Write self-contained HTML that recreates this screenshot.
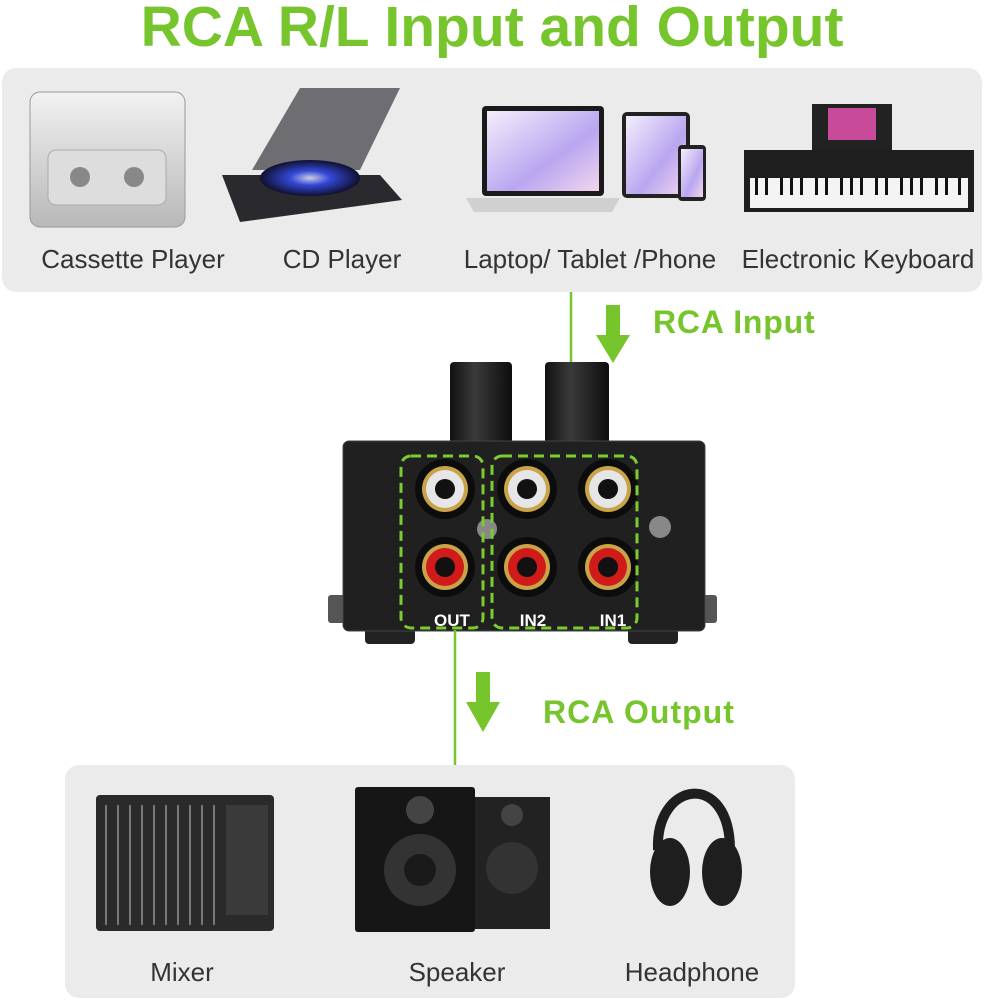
<!DOCTYPE html>
<html><head><meta charset="utf-8"><style>
html,body{margin:0;padding:0;background:#fff;}
body{width:984px;height:1000px;position:relative;overflow:hidden;font-family:"Liberation Sans","DejaVu Sans",sans-serif;}
</style></head><body>
<svg width="984" height="1000" viewBox="0 0 984 1000" xmlns="http://www.w3.org/2000/svg" style="position:absolute;left:0;top:0">
<defs>
<linearGradient id="silver" x1="0" y1="0" x2="0" y2="1"><stop offset="0" stop-color="#f2f2f2"/><stop offset="1" stop-color="#b8b8b8"/></linearGradient>
<linearGradient id="knob" x1="0" y1="0" x2="1" y2="0"><stop offset="0" stop-color="#111"/><stop offset=".4" stop-color="#3a3a3a"/><stop offset="1" stop-color="#0d0d0d"/></linearGradient>
<radialGradient id="disc" cx=".5" cy=".5" r=".5"><stop offset="0" stop-color="#ccd"/><stop offset=".4" stop-color="#3348d8"/><stop offset="1" stop-color="#101030"/></radialGradient>
<linearGradient id="scr" x1="0" y1="0" x2="1" y2="1"><stop offset="0" stop-color="#f4eefc"/><stop offset=".6" stop-color="#b9a6f0"/><stop offset="1" stop-color="#f2d6ee"/></linearGradient>
</defs>
<text x="492" y="46" text-anchor="middle" font-size="57" font-weight="bold" fill="#76c52c">RCA R/L Input and Output</text>
<rect x="2" y="68" width="980" height="224" rx="14" fill="#ebebeb"/>
<rect x="30" y="92" width="155" height="135" rx="10" fill="url(#silver)" stroke="#999"/>
<rect x="48" y="150" width="118" height="55" rx="8" fill="#ddd" stroke="#aaa"/>
<circle cx="80" cy="177" r="10" fill="#888"/><circle cx="134" cy="177" r="10" fill="#888"/>
<polygon points="252,170 300,88 400,88 360,170" fill="#6d6d72"/>
<polygon points="222,175 380,175 402,200 240,222" fill="#2a2a2e"/>
<ellipse cx="310" cy="178" rx="50" ry="18" fill="url(#disc)"/>
<rect x="482" y="106" width="122" height="90" rx="4" fill="#1a1a1a"/>
<rect x="487" y="111" width="112" height="80" fill="url(#scr)"/>
<polygon points="466,198 620,198 612,212 474,212" fill="#d0d0d0"/>
<rect x="622" y="112" width="68" height="86" rx="5" fill="#222"/>
<rect x="626" y="116" width="60" height="78" fill="url(#scr)"/>
<rect x="678" y="145" width="28" height="56" rx="4" fill="#222"/>
<rect x="681" y="149" width="22" height="48" fill="url(#scr)"/>
<rect x="812" y="104" width="80" height="50" fill="#222"/>
<rect x="828" y="108" width="48" height="32" fill="#c84a9a"/>
<rect x="744" y="150" width="230" height="62" fill="#1e1e1e"/>
<rect x="750" y="178" width="218" height="30" fill="#f4f4f4"/>
<g fill="#111"><rect x="755" y="178" width="3" height="17"/><rect x="765" y="178" width="3" height="17"/><rect x="780" y="178" width="3" height="17"/><rect x="790" y="178" width="3" height="17"/><rect x="800" y="178" width="3" height="17"/><rect x="815" y="178" width="3" height="17"/><rect x="825" y="178" width="3" height="17"/><rect x="840" y="178" width="3" height="17"/><rect x="850" y="178" width="3" height="17"/><rect x="860" y="178" width="3" height="17"/><rect x="875" y="178" width="3" height="17"/><rect x="885" y="178" width="3" height="17"/><rect x="900" y="178" width="3" height="17"/><rect x="910" y="178" width="3" height="17"/><rect x="920" y="178" width="3" height="17"/><rect x="935" y="178" width="3" height="17"/><rect x="945" y="178" width="3" height="17"/><rect x="958" y="178" width="3" height="17"/></g>
<g font-size="26" fill="#333" text-anchor="middle">
<text x="133" y="268">Cassette Player</text><text x="342" y="268">CD Player</text>
<text x="590" y="268">Laptop/ Tablet /Phone</text><text x="858" y="268">Electronic Keyboard</text>
</g>
<line x1="571" y1="292" x2="571" y2="457" stroke="#76c52c" stroke-width="2.5"/>
<rect x="606" y="305" width="14" height="32" fill="#76c52c"/>
<polygon points="596,335 630,335 613,363" fill="#76c52c"/>
<text x="653" y="333" font-size="32" font-weight="bold" fill="#76c52c" letter-spacing="0.8">RCA Input</text>
<rect x="450" y="362" width="62" height="82" rx="4" fill="url(#knob)"/>
<rect x="545" y="362" width="64" height="82" rx="4" fill="url(#knob)"/>
<rect x="328" y="595" width="20" height="28" rx="3" fill="#555"/>
<rect x="703" y="595" width="14" height="28" rx="3" fill="#555"/>
<rect x="365" y="628" width="50" height="16" rx="4" fill="#222"/>
<rect x="628" y="628" width="50" height="16" rx="4" fill="#222"/>
<rect x="343" y="441" width="362" height="190" rx="6" fill="#202020"/>
<rect x="343" y="441" width="362" height="190" rx="6" fill="none" stroke="#444"/>
<g>
<g transform="translate(445,489)"><circle r="30" fill="#0c0c0c"/><circle r="23" fill="#c9a347"/><circle r="19" fill="#e6e6e8"/><circle r="10" fill="#111"/></g>
<g transform="translate(527,489)"><circle r="30" fill="#0c0c0c"/><circle r="23" fill="#c9a347"/><circle r="19" fill="#e6e6e8"/><circle r="10" fill="#111"/></g>
<g transform="translate(608,489)"><circle r="30" fill="#0c0c0c"/><circle r="23" fill="#c9a347"/><circle r="19" fill="#e6e6e8"/><circle r="10" fill="#111"/></g>
<g transform="translate(445,567)"><circle r="30" fill="#0c0c0c"/><circle r="23" fill="#c9a347"/><circle r="19" fill="#d11a1a"/><circle r="10" fill="#111"/></g>
<g transform="translate(527,567)"><circle r="30" fill="#0c0c0c"/><circle r="23" fill="#c9a347"/><circle r="19" fill="#d11a1a"/><circle r="10" fill="#111"/></g>
<g transform="translate(608,567)"><circle r="30" fill="#0c0c0c"/><circle r="23" fill="#c9a347"/><circle r="19" fill="#d11a1a"/><circle r="10" fill="#111"/></g>
</g>
<circle cx="487" cy="529" r="10" fill="#888"/><circle cx="660" cy="527" r="11" fill="#888"/>
<rect x="401" y="456" width="82" height="172" rx="10" fill="none" stroke="#7ccb30" stroke-width="3" stroke-dasharray="10,6"/>
<rect x="492" y="456" width="145" height="172" rx="10" fill="none" stroke="#7ccb30" stroke-width="3" stroke-dasharray="10,6"/>
<g font-size="17" font-weight="bold" fill="#fff" text-anchor="middle"><text x="452" y="626">OUT</text><text x="533" y="626">IN2</text><text x="613" y="626">IN1</text></g>
<line x1="455" y1="630" x2="455" y2="767" stroke="#76c52c" stroke-width="2.5"/>
<rect x="476" y="672" width="14" height="32" fill="#76c52c"/>
<polygon points="466,702 500,702 483,732" fill="#76c52c"/>
<text x="543" y="723" font-size="32" font-weight="bold" fill="#76c52c" letter-spacing="1">RCA Output</text>
<rect x="65" y="765" width="730" height="233" rx="14" fill="#ebebeb"/>
<rect x="96" y="795" width="178" height="136" rx="4" fill="#2a2a2a"/>
<g stroke="#777" stroke-width="2"><line x1="106" y1="805" x2="106" y2="925"/><line x1="118" y1="805" x2="118" y2="925"/><line x1="130" y1="805" x2="130" y2="925"/><line x1="142" y1="805" x2="142" y2="925"/><line x1="154" y1="805" x2="154" y2="925"/><line x1="166" y1="805" x2="166" y2="925"/><line x1="178" y1="805" x2="178" y2="925"/><line x1="190" y1="805" x2="190" y2="925"/><line x1="202" y1="805" x2="202" y2="925"/><line x1="214" y1="805" x2="214" y2="925"/></g>
<rect x="226" y="805" width="42" height="110" fill="#3a3a3a"/>
<rect x="355" y="787" width="120" height="145" rx="3" fill="#161616"/>
<rect x="475" y="797" width="75" height="132" fill="#222"/>
<circle cx="420" cy="810" r="14" fill="#444"/><circle cx="420" cy="870" r="36" fill="#333"/><circle cx="420" cy="870" r="16" fill="#1a1a1a"/>
<circle cx="512" cy="815" r="11" fill="#444"/><circle cx="512" cy="868" r="26" fill="#333"/>
<path d="M658 850 C655 780 730 770 730 850" fill="none" stroke="#1e1e1e" stroke-width="10"/>
<ellipse cx="670" cy="872" rx="20" ry="34" fill="#1e1e1e"/>
<ellipse cx="722" cy="872" rx="20" ry="34" fill="#1e1e1e"/>
<g font-size="26" fill="#333" text-anchor="middle">
<text x="182" y="981">Mixer</text><text x="457" y="981">Speaker</text><text x="692" y="981">Headphone</text>
</g>
</svg>
</body></html>
